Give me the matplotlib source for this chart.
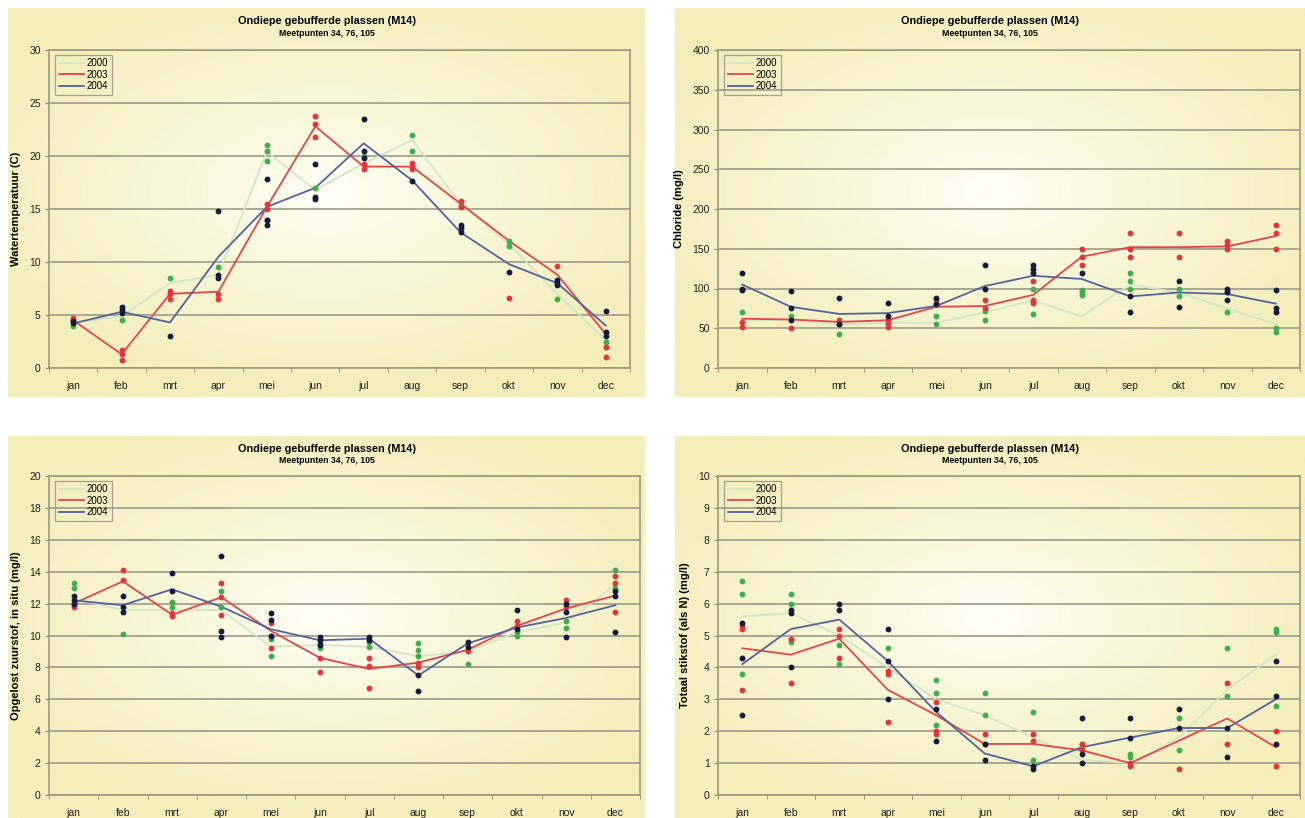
import numpy as np
import matplotlib
matplotlib.use("Agg")
import matplotlib.pyplot as plt

plt.rcParams['font.family'] = ['Liberation Sans', 'DejaVu Sans']

# categories and series
months = ['jan', 'feb', 'mrt', 'apr', 'mei', 'jun', 'jul', 'aug', 'sep', 'okt', 'nov', 'dec']
years = ['2000', '2003', '2004']
title = 'Ondiepe gebufferde plassen (M14)'
subtitle = 'Meetpunten 34, 76, 105'

# --- watertemperatuur ---
temp_2000 = [4.3, 4.9, 8.0, 8.8, 20.4, 16.8, 19.3, 21.5, 15.5, 11.7, 7.0, 2.6]
temp_2003 = [4.5, 1.3, 7.0, 7.2, 15.2, 22.8, 19.0, 19.0, 15.5, 12.0, 8.8, 3.2]
temp_2004 = [4.2, 5.3, 4.3, 10.5, 15.2, 17.0, 21.2, 17.7, 12.8, 9.8, 8.0, 4.0]
temp_pts_2000 = [[4.0, 4.3], [4.5], [8.5], [9.5], [19.5, 20.5, 21.0], [17.0], [20.0], [20.5, 22.0],
                 [15.5], [11.5, 12.0], [6.5], [2.0, 2.5]]
temp_pts_2003 = [[4.5, 4.7], [0.8, 1.3, 1.7], [6.5, 7.0, 7.3], [6.5, 7.0], [14.0, 15.0, 15.5],
                 [21.8, 23.0, 23.8], [18.8, 19.2], [18.8, 19.0, 19.3], [15.2, 15.8], [6.6], [9.6],
                 [1.0, 2.0]]
temp_pts_2004 = [[4.2, 4.4], [5.2, 5.5, 5.8], [3.0], [8.5, 8.8, 14.8], [13.5, 14.0, 17.8],
                 [15.9, 16.1, 19.2], [19.8, 20.5, 23.5], [17.6], [12.8, 13.2, 13.5], [9.1],
                 [7.8, 8.0, 8.3], [3.0, 3.4, 5.4]]

# --- chloride ---
cl_2000 = [60, 60, 55, 57, 57, 70, 85, 65, 105, 95, 75, 55]
cl_2003 = [62, 61, 58, 60, 77, 78, 92, 140, 152, 152, 153, 166]
cl_2004 = [105, 77, 68, 69, 78, 103, 116, 112, 90, 95, 93, 81]
cl_pts_2000 = [[70], [65], [43], [55], [55, 65], [60, 72], [68, 100], [92, 95, 98], [100, 110, 120],
               [90, 100], [70, 95], [45, 50]]
cl_pts_2003 = [[52, 58], [50], [55, 60], [52, 58, 62], [80, 85], [75, 85], [82, 85, 110],
               [130, 140, 150], [140, 150, 170], [140, 170], [150, 155, 160], [150, 170, 180]]
cl_pts_2004 = [[98, 100, 120], [60, 75, 97], [55, 88], [65, 82], [80, 88], [100, 130],
               [120, 125, 130], [120], [70, 90], [77, 110], [85, 95, 100], [70, 75, 98]]

# --- opgelost zuurstof ---
o2_2000 = [12.3, 11.6, 11.6, 11.6, 9.3, 9.4, 9.3, 8.7, 9.0, 10.2, 10.8, 13.2]
o2_2003 = [12.0, 13.4, 11.3, 12.4, 10.3, 8.6, 7.9, 8.3, 9.1, 10.6, 11.7, 12.5]
o2_2004 = [12.2, 11.9, 12.9, 11.8, 10.4, 9.7, 9.8, 7.5, 9.5, 10.5, 11.1, 11.9]
o2_pts_2000 = [[13.0, 13.3], [10.1], [11.8, 12.1], [11.8, 12.8], [8.7, 9.8, 10.0], [9.2, 9.5],
               [9.3, 9.6], [8.7, 9.1, 9.5], [8.2, 9.0], [10.0, 10.2], [10.5, 10.9], [13.0, 14.1]]
o2_pts_2003 = [[11.8, 12.0], [13.5, 14.1], [11.2, 11.4], [11.3, 12.4, 13.3], [9.2, 10.8],
               [7.7, 8.6], [6.7, 8.1, 8.6], [8.0, 8.3], [9.0], [10.6, 10.9], [11.8, 12.2],
               [11.5, 13.3, 13.7]]
o2_pts_2004 = [[12.0, 12.2, 12.5], [11.5, 11.8, 12.5], [12.8, 13.9], [9.9, 10.3, 15.0],
               [10.0, 11.0, 11.4], [9.4, 9.7, 9.9], [9.7, 9.9], [6.5, 7.5], [9.3, 9.6],
               [10.4, 11.6], [9.9, 11.5, 12.0], [10.2, 12.5, 12.8]]

# --- totaal stikstof ---
n_2000 = [5.6, 5.7, 5.0, 4.0, 3.0, 2.5, 1.8, 1.1, 1.0, 1.8, 3.3, 4.4]
n_2003 = [4.6, 4.4, 4.9, 3.3, 2.5, 1.6, 1.6, 1.4, 1.0, 1.7, 2.4, 1.5]
n_2004 = [4.1, 5.2, 5.5, 4.2, 2.6, 1.3, 0.9, 1.5, 1.8, 2.1, 2.1, 3.0]
n_pts_2000 = [[3.8, 6.3, 6.7], [4.8, 6.0, 6.3], [4.1, 4.7], [4.6], [2.2, 3.2, 3.6], [2.5, 3.2],
              [1.1, 2.6], [1.5, 1.6], [1.2, 1.3], [1.4, 2.4], [3.1, 4.6], [2.8, 5.1, 5.2]]
n_pts_2003 = [[3.3, 5.2, 5.3], [3.5, 4.9], [4.3, 5.0, 5.2], [2.3, 3.8, 3.9], [1.9, 2.0, 2.9],
              [1.6, 1.9], [1.7, 1.9], [1.4, 1.6], [0.9, 1.0], [0.8], [1.6, 3.5], [0.9, 2.0]]
n_pts_2004 = [[2.5, 4.3, 5.4], [4.0, 5.7, 5.8], [5.8, 6.0], [3.0, 4.2, 5.2], [1.7, 2.7],
              [1.1, 1.6], [0.8, 0.9], [1.0, 1.3, 2.4], [1.8, 2.4], [2.1, 2.7], [1.2, 2.1],
              [1.6, 3.1, 4.2]]

line_colors = ['#d2e6c6', '#e2474d', '#54639c']
dot_colors = ['#3fae4c', '#e5353c', '#161b3e']

W, H = 1305, 818
fig = plt.figure(figsize=(W / 100, H / 100), dpi=100)
fig.patch.set_facecolor('white')


def px(x0, y0, x1, y1):
    # pixel box (top-left origin) -> figure fraction rect
    return [x0 / W, 1 - y1 / H, (x1 - x0) / W, (y1 - y0) / H]


def gradient_bg(rect):
    bg = fig.add_axes(rect, zorder=0)
    ny, nx = 200, 300
    yy, xx = np.mgrid[-1:1:ny * 1j, -1:1:nx * 1j]
    d = np.clip(np.sqrt((xx * 1.05) ** 2 + ((yy + 0.05) * 1.15) ** 2) / 1.25, 0, 1) ** 0.8
    edge = np.array([244, 238, 186]) / 255.0
    center = np.array([255, 255, 248]) / 255.0
    img = center[None, None, :] * (1 - d[..., None]) + edge[None, None, :] * d[..., None]
    bg.imshow(img, aspect='auto', extent=[0, 1, 0, 1], interpolation='bilinear')
    bg.set_axis_off()


def panel(box, plot_box, series, pts, ymax, ystep, ylabel):
    gradient_bg(px(*box))
    ax = fig.add_axes(px(*plot_box), zorder=1)
    ax.set_facecolor('none')
    x = np.arange(len(months))
    for yr, vals, c in zip(years, series, line_colors):
        ax.plot(x, vals, color=c, lw=1.3, label=yr, zorder=3)
    for p, c in zip(pts, dot_colors):
        xs = [i for i, v in enumerate(p) for _ in v]
        ys = [val for v in p for val in v]
        ax.plot(xs, ys, 'o', color=c, ms=3.2, mec=c, zorder=4)
    ax.set_xlim(-0.5, len(months) - 0.5)
    ax.set_ylim(0, ymax)
    ax.set_yticks(np.arange(0, ymax + ystep / 2, ystep))
    ax.yaxis.grid(True, color='#a9a795', lw=1.4)
    ax.set_axisbelow(True)
    ax.set_xticks(x)
    ax.set_xticklabels(months)
    ax.set_xticks(np.arange(-0.5, len(months), 1), minor=True)
    ax.tick_params(axis='x', which='major', length=0, pad=9, labelsize=7.5, colors='#222222')
    ax.tick_params(axis='x', which='minor', length=3, color='#8a8870', direction='out')
    ax.tick_params(axis='y', length=3, color='#8a8870', labelsize=7.5, pad=3, colors='#222222')
    ax.tick_params(axis='y', colors='#8a8870', labelcolor='#222222')
    for s in ax.spines.values():
        s.set_color('#9c9a80')
        s.set_linewidth(1.2)
    ax.set_ylabel(ylabel, fontsize=8, fontweight='bold', labelpad=6)
    leg = ax.legend(loc='upper left', fontsize=7, frameon=True, fancybox=False,
                    handlelength=2.6, handletextpad=0.3, borderpad=0.4, labelspacing=0.15,
                    bbox_to_anchor=(0.005, 0.995), borderaxespad=0.3)
    leg.get_frame().set_edgecolor('#8e8e8e')
    leg.get_frame().set_facecolor('none')
    leg.get_frame().set_linewidth(0.9)
    cx = (box[0] + box[2]) / 2 / W
    fig.text(cx, 1 - (box[1] + 13) / H, title, ha='center', va='center',
             fontsize=7.8, fontweight='bold')
    fig.text(cx, 1 - (box[1] + 25) / H, subtitle, ha='center', va='center',
             fontsize=6.3, fontweight='bold')
    return ax


panel((8, 8, 645, 397), (49, 50, 630, 368),
      [temp_2000, temp_2003, temp_2004], [temp_pts_2000, temp_pts_2003, temp_pts_2004],
      30, 5, 'Watertemperatuur (C)')
panel((675, 8, 1305, 397), (718, 50, 1300, 368),
      [cl_2000, cl_2003, cl_2004], [cl_pts_2000, cl_pts_2003, cl_pts_2004],
      400, 50, 'Chloride (mg/l)')
panel((8, 436, 645, 818), (49, 476, 640, 795),
      [o2_2000, o2_2003, o2_2004], [o2_pts_2000, o2_pts_2003, o2_pts_2004],
      20, 2, 'Opgelost zuurstof, in situ (mg/l)')
panel((675, 436, 1305, 818), (718, 476, 1300, 795),
      [n_2000, n_2003, n_2004], [n_pts_2000, n_pts_2003, n_pts_2004],
      10, 1, 'Totaal stikstof (als N) (mg/l)')

fig.savefig('out.png', dpi=100, facecolor='white')
